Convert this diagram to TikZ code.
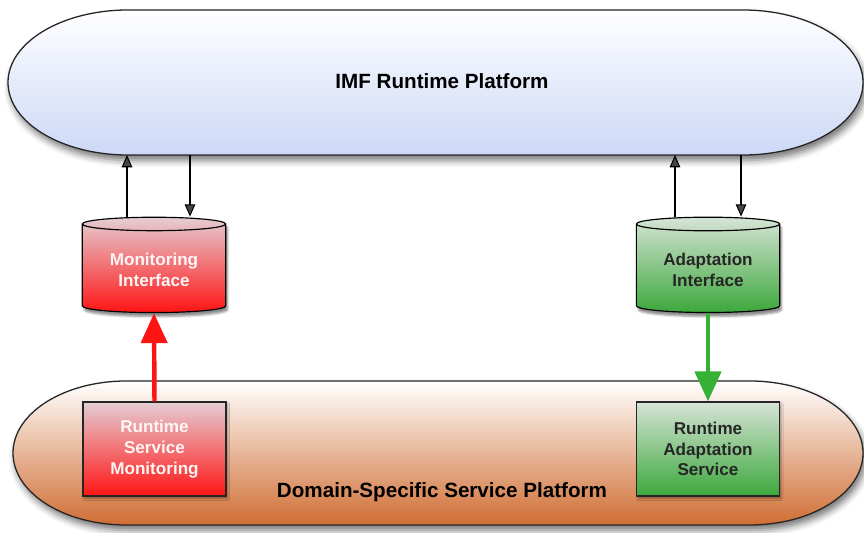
\documentclass[tikz,border=0pt]{standalone}
\usepackage{fontspec}
\setsansfont{Liberation Sans}
\usetikzlibrary{arrows.meta,shapes.geometric,shadows.blur}

\definecolor{imfblue}{RGB}{204,216,246}
\definecolor{dsspbrown}{RGB}{208,110,52}
\definecolor{monred}{RGB}{255,20,20}
\definecolor{monpale}{RGB}{228,206,212}
\definecolor{adagreen}{RGB}{60,168,60}
\definecolor{adapale}{RGB}{214,228,214}

\tikzset{
  platform/.style={draw=black!85, line width=1.1pt,
    blur shadow={shadow xshift=0.08cm, shadow yshift=-0.16cm,
      shadow blur radius=0.2cm, shadow opacity=55}},
  lbl/.style={font=\sffamily\bfseries\fontsize{14.6}{17.8}\selectfont, align=center},
  iface/.style={lbl, cylinder, shape border rotate=90, aspect=0.14, draw=black,
    line width=1pt, minimum width=4.3cm, minimum height=2.86cm,
    blur shadow={shadow xshift=0.06cm, shadow yshift=-0.12cm, shadow opacity=45}},
  svcbox/.style={lbl, rectangle, draw=black!85, line width=1pt,
    minimum width=4.29cm, minimum height=2.82cm,
    blur shadow={shadow xshift=0.05cm, shadow yshift=-0.08cm, shadow opacity=35}},
  thinarr/.style={-{Triangle[length=10.5pt,width=9pt]}, line width=0.9pt},
  fatarr/.style={-{Triangle[length=0.9cm,width=0.78cm]}, line width=3.8pt},
}

\begin{document}
\begin{tikzpicture}
  \useasboundingbox (0,0) rectangle (25.92,15.96);

  % the two platforms
  \path[platform, top color=white, bottom color=imfblue]
    (3.84,15.66) -- (22.29,15.66) arc[start angle=90, end angle=-90, x radius=3.6cm, y radius=2.175cm]
    -- (3.84,11.31) arc[start angle=270, end angle=90, x radius=3.6cm, y radius=2.175cm] -- cycle;
  \node[font=\sffamily\bfseries\fontsize{17.6}{21}\selectfont] (imf) at (13.26,13.53) {IMF Runtime Platform};
  \coordinate (imfbot) at (13.26,11.31);

  \path[platform, top color=white, bottom color=dsspbrown]
    (3.79,4.53) -- (22.49,4.53) arc[start angle=90, end angle=-90, x radius=3.4cm, y radius=2.16cm]
    -- (3.79,0.21) arc[start angle=270, end angle=90, x radius=3.4cm, y radius=2.16cm] -- cycle;
  \node[font=\sffamily\bfseries\fontsize{17.6}{21}\selectfont] (dssp) at (13.26,1.2) {Domain-Specific Service Platform};

  % interfaces
  \node[iface, top color=monpale, bottom color=monred, text=white!96!red] (moni) at (4.62,7.87) {Monitoring\\Interface};
  \node[iface, top color=adapale, bottom color=adagreen, text=black!85] (adapt) at (21.24,7.87) {Adaptation\\Interface};

  % runtime services
  \node[svcbox, top color=monpale, bottom color=monred, text=white!96!red] (rsm) at (4.635,2.49) {Runtime\\Service\\Monitoring};
  \node[svcbox, top color=adapale, bottom color=adagreen, text=black!85] (ras) at (21.24,2.49) {Runtime\\Adaptation\\Service};

  % platform <-> interfaces
  \draw[thinarr] ([xshift=-0.81cm]moni.north) -- ([xshift=-0.81cm]moni.north |- imfbot);
  \draw[thinarr] ([xshift=1.08cm]moni.north |- imfbot) -- ([xshift=1.08cm]moni.north);
  \draw[thinarr] ([xshift=-0.99cm]adapt.north) -- ([xshift=-0.99cm]adapt.north |- imfbot);
  \draw[thinarr] ([xshift=0.99cm]adapt.north |- imfbot) -- ([xshift=0.99cm]adapt.north);

  % services <-> interfaces
  \draw[fatarr, draw=monred, fill=monred] (rsm.north) -- (moni.south);
  \draw[fatarr, draw=adagreen!90!green, fill=adagreen!90!green] (adapt.south) -- (ras.north);
\end{tikzpicture}
\end{document}
